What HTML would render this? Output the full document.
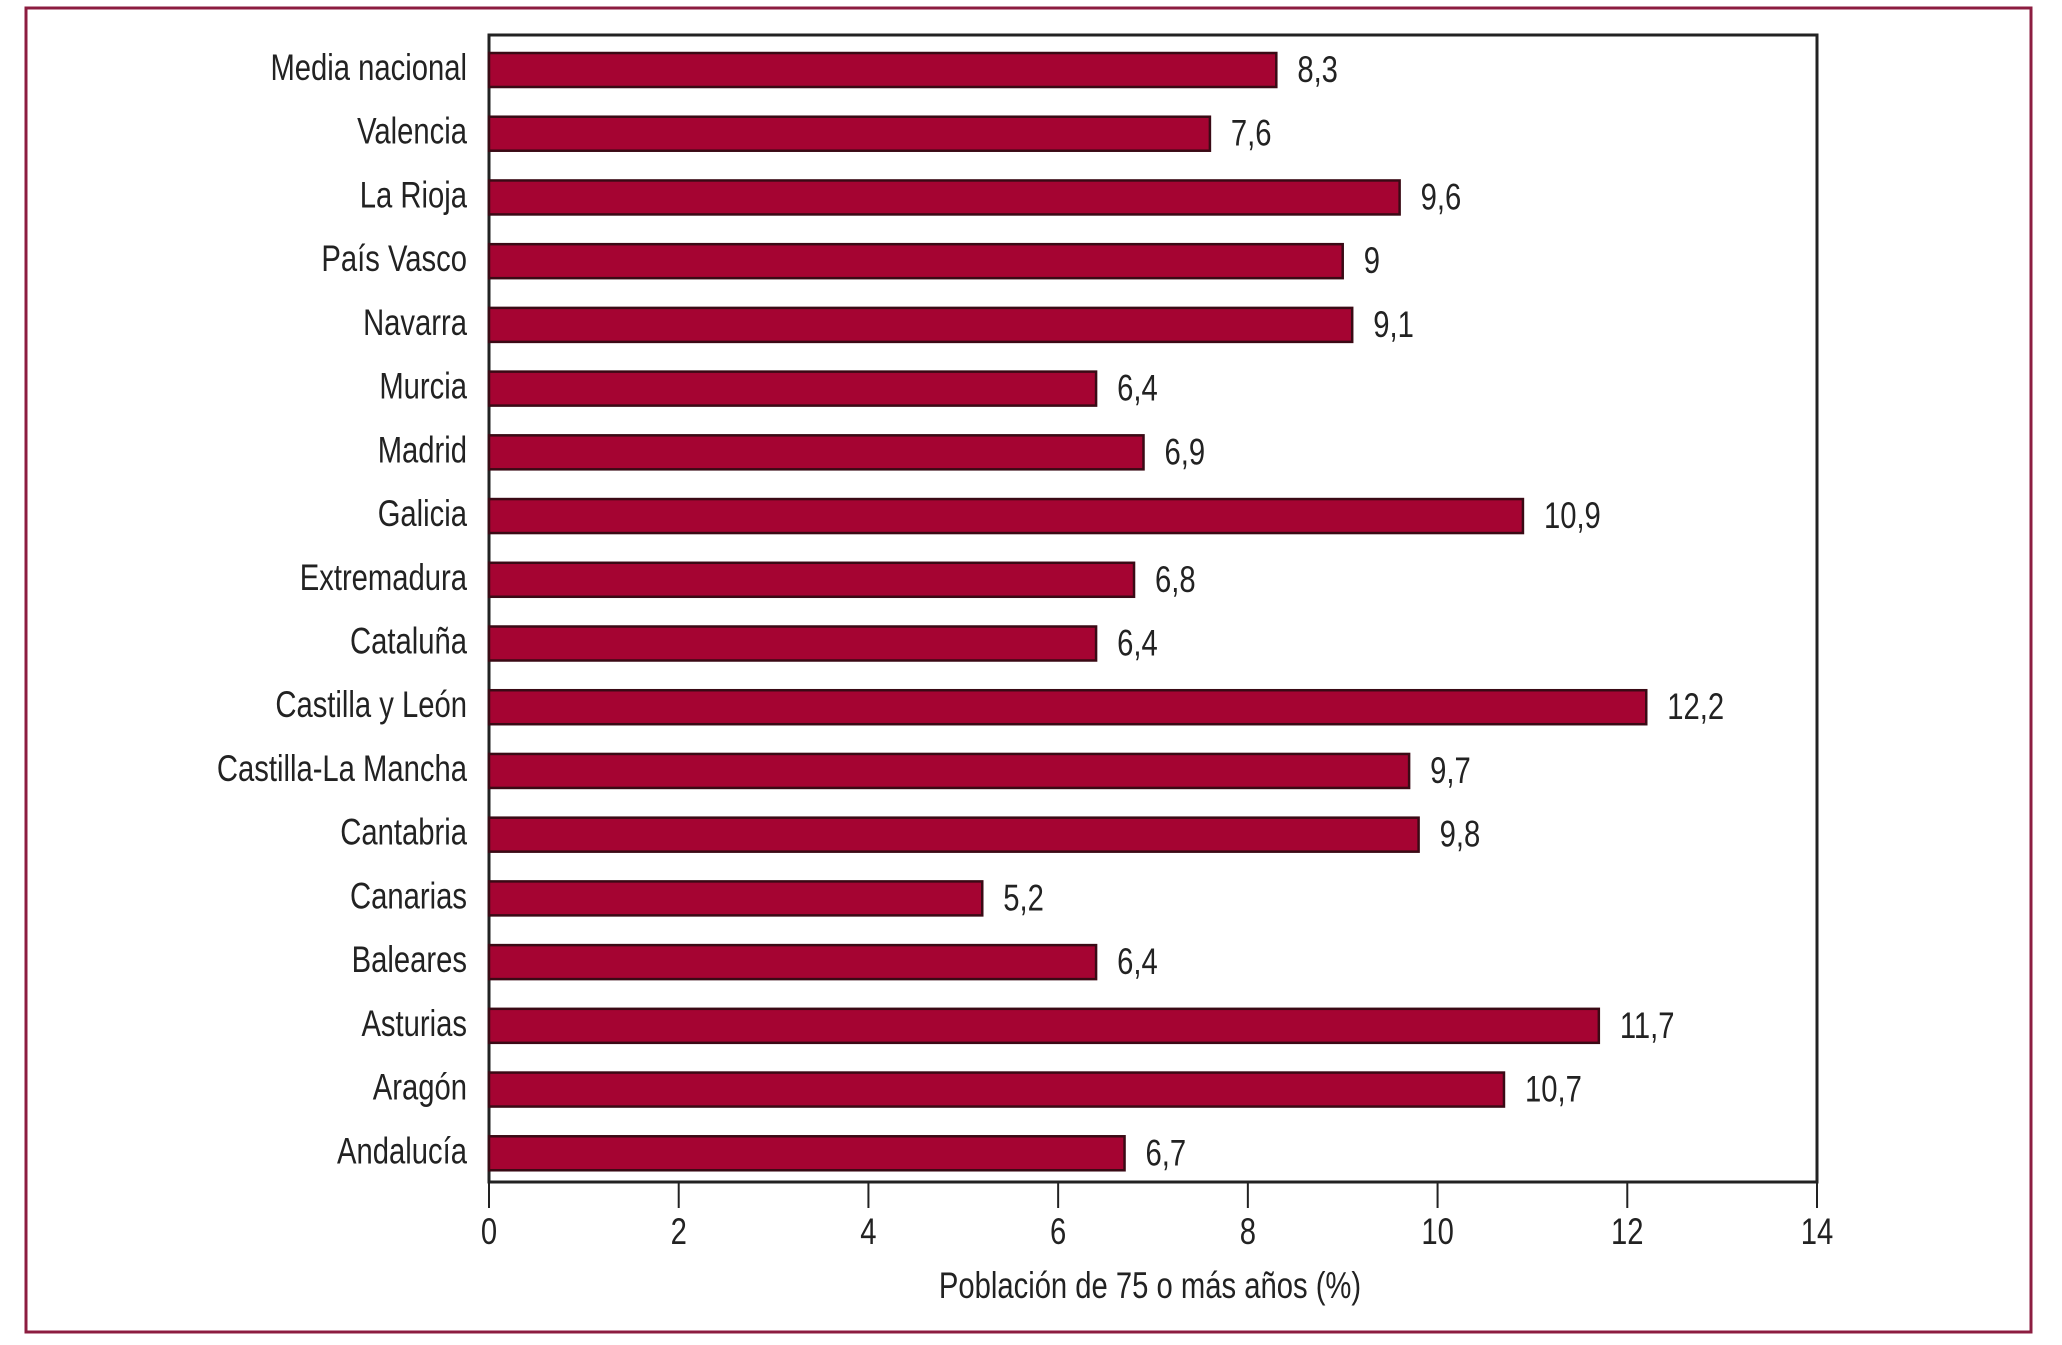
<!DOCTYPE html>
<html><head><meta charset="utf-8"><style>
html,body{margin:0;padding:0;background:#fff;}
svg{display:block;font-family:"Liberation Sans",Arial,sans-serif;}
</style></head><body>
<svg width="2062" height="1345" viewBox="0 0 2062 1345">
<rect x="26" y="8" width="2005" height="1324" fill="none" stroke="#8c1d40" stroke-width="3"/>
<g id="plot"></g>
</svg>
<script>
const categories = ["Media nacional","Valencia","La Rioja","País Vasco","Navarra","Murcia","Madrid","Galicia","Extremadura","Cataluña","Castilla y León","Castilla-La Mancha","Cantabria","Canarias","Baleares","Asturias","Aragón","Andalucía"];
const values = [8.3,7.6,9.6,9,9.1,6.4,6.9,10.9,6.8,6.4,12.2,9.7,9.8,5.2,6.4,11.7,10.7,6.7];
const valueLabels = ["8,3","7,6","9,6","9","9,1","6,4","6,9","10,9","6,8","6,4","12,2","9,7","9,8","5,2","6,4","11,7","10,7","6,7"];
const ticks = [0,2,4,6,8,10,12,14];

const NS="http://www.w3.org/2000/svg";
const g=document.getElementById('plot');
const L=489,R=1817,T=35,B=1182,xmax=14;
const band=(B-T)/categories.length;
const x=v=>L+(v/xmax)*(R-L);
const yb=i=>T+i*band;
function mk(tag,attrs){const e=document.createElementNS(NS,tag);for(const k in attrs)e.setAttribute(k,attrs[k]);g.appendChild(e);return e;}
function txt(s,tx,ty,anchor,size,sx){const e=mk('text',{transform:`translate(${tx},${ty}) scale(${sx},1)`,'text-anchor':anchor,'font-size':size,fill:'#222'});e.textContent=s;return e;}

const frame=mk('path',{d:`M${L},${T} H${R} V${B} H${L} Z`,fill:'none',stroke:'#222','stroke-width':3});



categories.forEach((c,i)=>{
  const top=yb(i)+18;
  const r=mk('rect',{x:L,y:top,width:x(values[i])-L,height:34,fill:'#a50432',stroke:'#3a0a15','stroke-width':2.5});
  
  
  const lab=txt(c,467,top+27,'end',37,0.79);
  
  
  const vl=txt(valueLabels[i],x(values[i])+21,top+29,'start',37,0.79);
  
  
});

ticks.forEach(t=>{
  const l=mk('line',{x1:x(t),x2:x(t),y1:B,y2:B+26,stroke:'#222','stroke-width':2});
  
  
  const tl=txt(String(t),x(t),B+62,'middle',37,0.79);
  
  
});
const at=txt("Población de 75 o más años (%)",1150,1298,'middle',37,0.79);


</script>
</body></html>
